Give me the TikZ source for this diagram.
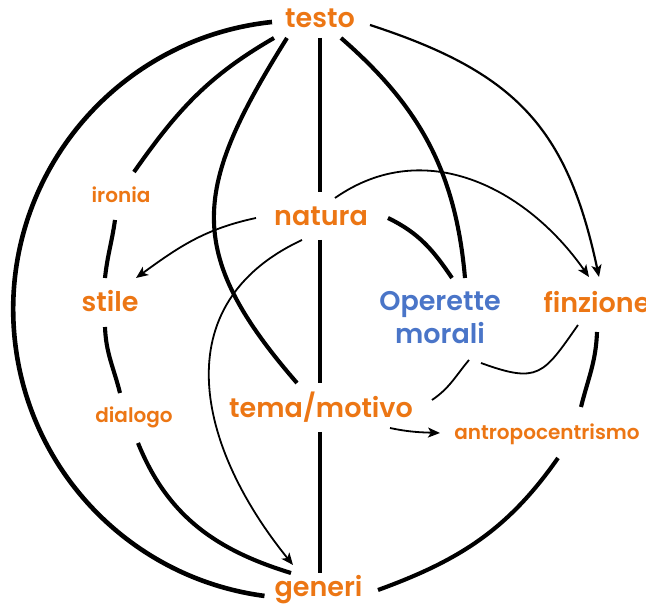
\documentclass[tikz,border=0pt]{standalone}
\usepackage{fontspec}
\setmainfont{Poppins}[BoldFont=* SemiBold]
\usepackage{tikz}
\usetikzlibrary{arrows.meta,calc}
\definecolor{mapor}{HTML}{EC7614}
\definecolor{mapbl}{HTML}{4A75C8}

\begin{document}
\begin{tikzpicture}[
  x=1pt, y=1pt,
  hub/.style={font=\fontsize{27}{33}\selectfont\bfseries, text=mapor,
    anchor=base, inner sep=0pt},
  leaf/.style={font=\fontsize{20}{24}\selectfont\bfseries, text=mapor,
    anchor=base, inner sep=0pt},
  opera/.style={hub, text=mapbl, align=center, anchor=center},
  rim/.style={line width=4.6pt},
  thread/.style={line width=4.1pt},
  axis/.style={line width=3.6pt},
  tie/.style={line width=1.8pt},
  link/.style={tie, -{Stealth[length=12pt,width=10pt,inset=3pt]}},
  ]
  \useasboundingbox (0,0) rectangle (646,607);
  \node[hub] (testo) at (320,579) {testo};
  \node[leaf] (ironia) at (121,404) {ironia};
  \node[hub] (natura) at (321,381) {natura};
  \node[hub] (stile) at (110,295) {stile};
  \node[opera] (opera) at (440,289) {Operette\\morali};
  \node[hub] (finzione) at (597,294) {finzione};
  \node[leaf] (dialogo) at (134,184) {dialogo};
  \node[hub] (tema) at (321,189) {tema/motivo};
  \node[leaf] (antropo) at (547,167) {antropocentrismo};
  \node[hub] (generi) at (318.5,10) {generi};

  % outer ring
  \draw[rim] ($(testo.base)+(-48,6)$) arc[start angle=96, end angle=262.5, radius=289];
  \draw[link, line width=2.2pt] ($(testo.base)+(50,3)$) to[out=-18,in=102,looseness=1.15] ($(finzione.base)+(2,36)$);
  \draw[thread] ($(finzione.base)+(0,-19)$) to[out=-92,in=76] ($(antropo.base)+(34,33)$);
  \draw[thread] ($(antropo.base)+(11,-18)$) to[out=235,in=20] ($(generi.base)+(59.5,7)$);

  % left meridian
  \draw[thread] ($(testo.base)+(-46,-10)$) to[out=210,in=55] ($(ironia.base)+(13,31)$);
  \draw[thread] ($(ironia.base)+(-6,-17)$) to[out=-98,in=84] ($(stile.base)+(-5,34)$);
  \draw[thread] ($(stile.base)+(-5,-15)$) to[out=-88,in=104] ($(dialogo.base)+(-14,30)$);
  \draw[thread] ($(dialogo.base)+(4,-20)$) to[out=-68,in=163] ($(generi.base)+(-27.5,24)$);

  % inner meridians
  \draw[thread] ($(testo.base)+(-33,-10)$) to[out=238,in=131,looseness=1.3] ($(tema.base)+(-24,35)$);
  \draw[thread] ($(testo.base)+(21,-10)$) to[out=-41,in=95] ($(opera)+(25,40)$);
  \draw[thread] ($(natura.base)+(67,8)$) to[out=-26,in=124] ($(opera)+(12,40)$);

  % axis
  \draw[axis] ($(testo.base)+(0,-10)$) -- ($(natura.base)+(-1,34)$);
  \draw[axis] ($(natura.base)+(-1,-14)$) -- ($(tema.base)+(-1,35)$);
  \draw[axis] ($(tema.base)+(-1,-14)$) -- ($(generi.base)+(1.5,24)$);

  % from natura
  \draw[link] ($(natura.base)+(-65,8)$) to[out=192,in=36] ($(stile.base)+(26,34)$);
  \draw[link] ($(natura.base)+(-19,-14)$) to[out=205,in=129,looseness=1.2] ($(generi.base)+(-25.5,32)$);
  \draw[link] ($(natura.base)+(14,28)$) to[out=35,in=125,looseness=1.05] ($(finzione.base)+(-8,36)$);

  % Operette morali
  \draw[tie] ($(opera)+(41,-45)$) to[out=-20,in=235,looseness=1.5] ($(finzione.base)+(-19,-12)$);
  \draw[tie] ($(opera)+(29,-42)$) to[out=230,in=34] ($(tema.base)+(111,18)$);
  \draw[link] ($(tema.base)+(69,-10)$) to[out=-12,in=178] ($(antropo.base)+(-107,7)$);
\end{tikzpicture}
\end{document}
